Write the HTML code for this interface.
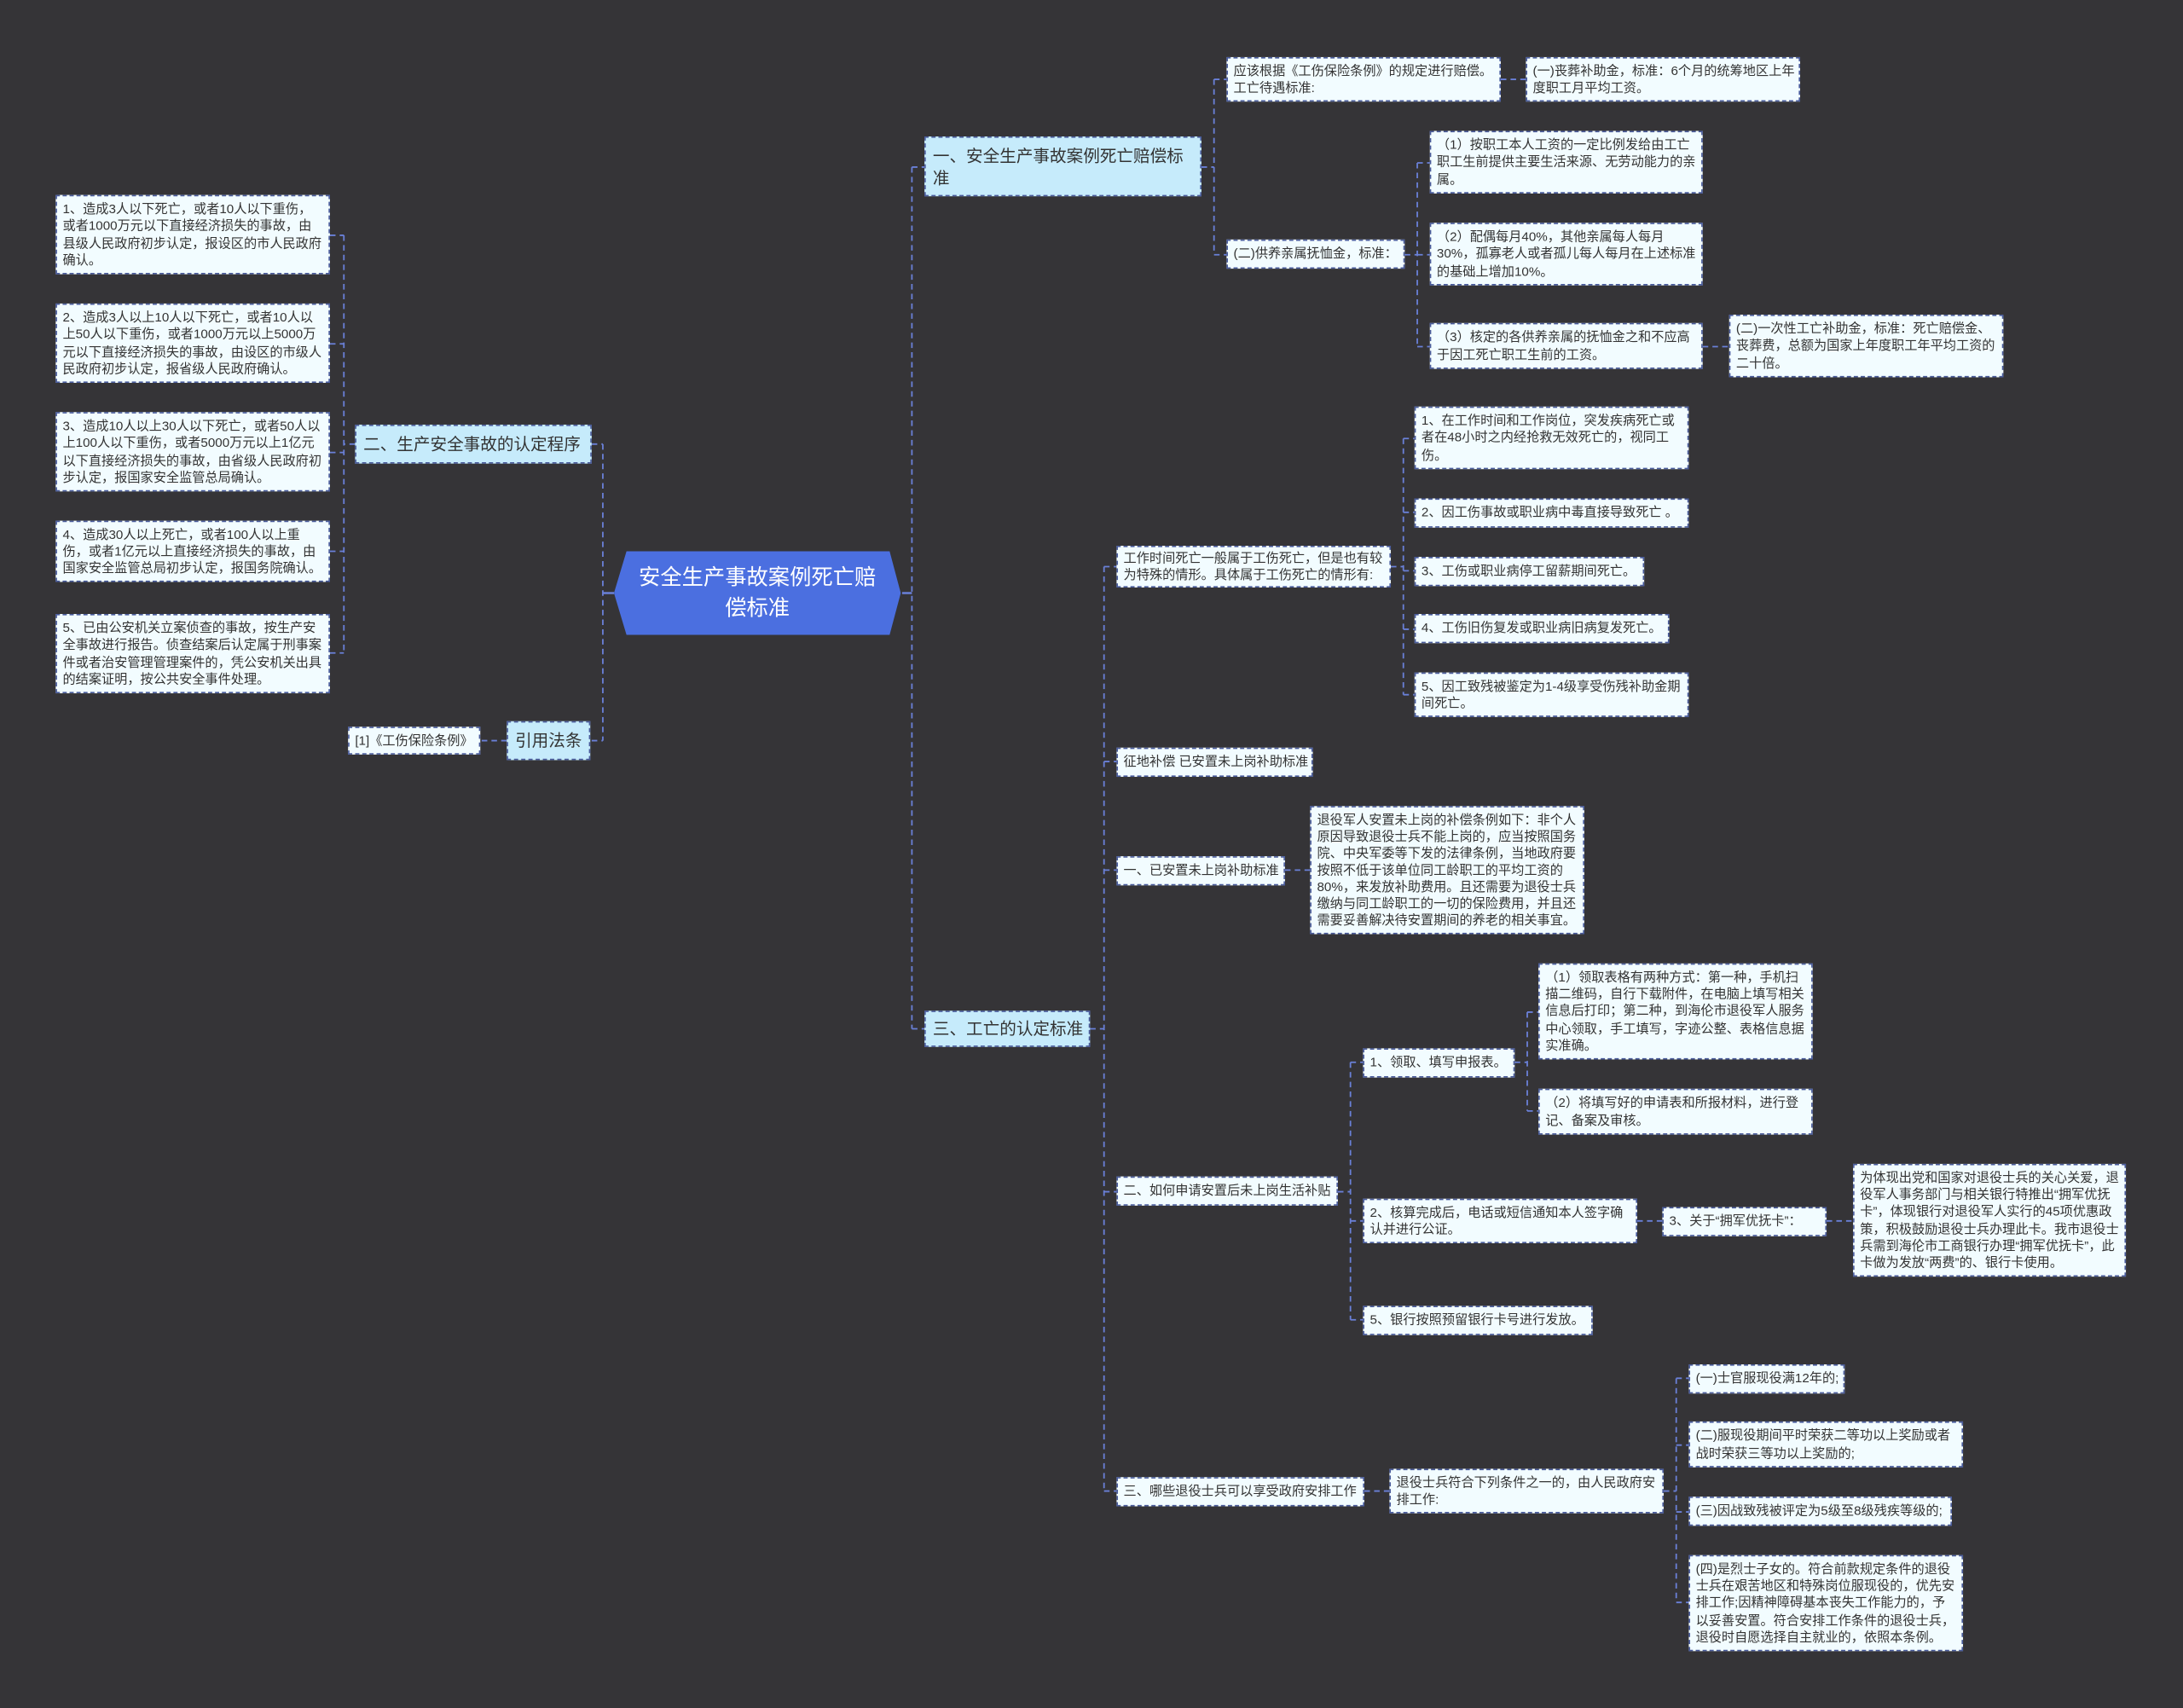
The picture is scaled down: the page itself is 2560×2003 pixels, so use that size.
<!DOCTYPE html>
<html><head><meta charset="utf-8"><style>
html,body{margin:0;padding:0;background:#353437;}
body{width:2560px;height:2003px;overflow:hidden;position:relative;}
#s{position:absolute;left:0;top:0;width:1568px;height:1227px;transform:scale(1.63265);transform-origin:0 0;}
.b{position:absolute;box-sizing:border-box;background:#f2fcff;border:1px dashed #4a5c9c;color:#333;font-family:"Liberation Sans","Noto Sans CJK SC",sans-serif;font-size:9.3px;line-height:12.1px;padding:3px 3px 3px 4px;overflow:hidden;display:flex;align-items:center;}
.b span{display:block;}
.m{background:#c6ebfb;font-size:12px;line-height:16px;padding:4px 5px;color:#333;}
.c{white-space:nowrap;}
svg{position:absolute;left:0;top:0;}
</style></head><body><div id="s">
<svg width="1568" height="1227">
<g stroke="#6a80d8" stroke-width="1.1" stroke-dasharray="4,3" fill="none">
<path d="M441 426 H433 M433 319 V532 M425 319 H433 M425 532 H433"/>
<path d="M255 319 H247 M247 169 V469 M237 169 H247 M237 247 H247 M237 325 H247 M237 396 H247 M237 469 H247"/>
<path d="M364 532 H345"/>
<path d="M648 426 H655 M655 120 V739 M655 120 H664 M655 739 H664"/>
<path d="M863 120 H872 M872 57 V183 M872 57 H881 M872 183 H881"/>
<path d="M1078 57 H1096"/>
<path d="M1009 183 H1018 M1018 117 V249 M1018 117 H1027 M1018 183 H1027 M1018 249 H1027"/>
<path d="M1223 249 H1242"/>
<path d="M783 739 H793 M793 407 V1071 M793 407 H802 M793 547 H802 M793 625 H802 M793 856 H802 M793 1071 H802"/>
<path d="M999 407 H1008 M1008 315 V499 M1008 315 H1016 M1008 368 H1016 M1008 410 H1016 M1008 452 H1016 M1008 499 H1016"/>
<path d="M923 625 H941"/>
<path d="M961 856 H970 M970 763 V948 M970 763 H979 M970 877 H979 M970 948 H979"/>
<path d="M1088 763 H1097 M1097 727 V798 M1097 727 H1105 M1097 798 H1105"/>
<path d="M1176 877 H1194 M1312 877 H1331"/>
<path d="M980 1071 H998 M1195 1071 H1204 M1204 990 V1151 M1204 990 H1213 M1204 1038 H1213 M1204 1086 H1213 M1204 1151 H1213"/>
</g>
<g stroke="#6a80d8" stroke-width="1.5"><path d="M433 426 H441 M648 426 H655"/></g>
<polygon points="450,396 639,396 647,426 639,456 450,456 441,426" fill="#4b6fe0"/>
<text x="544" y="420" fill="#fff" font-size="15.5" text-anchor="middle" font-family="Liberation Sans,Noto Sans CJK SC,sans-serif">安全生产事故案例死亡赔</text>
<text x="544" y="442" fill="#fff" font-size="15.5" text-anchor="middle" font-family="Liberation Sans,Noto Sans CJK SC,sans-serif">偿标准</text>
</svg>

<div class="b m c" style="left:255px;top:305px;width:170px;height:28px;">二、生产安全事故的认定程序</div>
<div class="b m c" style="left:364px;top:518px;width:60px;height:28px;">引用法条</div>
<div class="b c" style="left:250px;top:522px;width:95px;height:20px;">[1]《工伤保险条例》</div>
<div class="b" style="left:40px;top:140px;width:197px;height:57px;"><span>1、造成3人以下死亡，或者10人以下重伤，或者1000万元以下直接经济损失的事故，由县级人民政府初步认定，报设区的市人民政府确认。</span></div>
<div class="b" style="left:40px;top:218px;width:197px;height:57px;"><span>2、造成3人以上10人以下死亡，或者10人以上50人以下重伤，或者1000万元以上5000万元以下直接经济损失的事故，由设区的市级人民政府初步认定，报省级人民政府确认。</span></div>
<div class="b" style="left:40px;top:296px;width:197px;height:57px;"><span>3、造成10人以上30人以下死亡，或者50人以上100人以下重伤，或者5000万元以上1亿元以下直接经济损失的事故，由省级人民政府初步认定，报国家安全监管总局确认。</span></div>
<div class="b" style="left:40px;top:374px;width:197px;height:44px;"><span>4、造成30人以上死亡，或者100人以上重伤，或者1亿元以上直接经济损失的事故，由国家安全监管总局初步认定，报国务院确认。</span></div>
<div class="b" style="left:40px;top:441px;width:197px;height:57px;"><span>5、已由公安机关立案侦查的事故，按生产安全事故进行报告。侦查结案后认定属于刑事案件或者治安管理管理案件的，凭公安机关出具的结案证明，按公共安全事件处理。</span></div>

<div class="b m" style="left:664px;top:98px;width:199px;height:43px;"><span>一、安全生产事故案例死亡赔偿标准</span></div>
<div class="b m c" style="left:664px;top:726px;width:119px;height:26px;">三、工亡的认定标准</div>

<div class="b" style="left:881px;top:41px;width:197px;height:32px;"><span>应该根据《工伤保险条例》的规定进行赔偿。工亡待遇标准:</span></div>
<div class="b" style="left:1096px;top:41px;width:197px;height:32px;"><span>(一)丧葬补助金，标准：6个月的统筹地区上年度职工月平均工资。</span></div>
<div class="b c" style="left:881px;top:172px;width:128px;height:21px;">(二)供养亲属抚恤金，标准：</div>
<div class="b" style="left:1027px;top:94px;width:196px;height:45px;"><span>（1）按职工本人工资的一定比例发给由工亡职工生前提供主要生活来源、无劳动能力的亲属。</span></div>
<div class="b" style="left:1027px;top:160px;width:196px;height:45px;"><span>（2）配偶每月40%，其他亲属每人每月30%，孤寡老人或者孤儿每人每月在上述标准的基础上增加10%。</span></div>
<div class="b" style="left:1027px;top:232px;width:196px;height:33px;"><span>（3）核定的各供养亲属的抚恤金之和不应高于因工死亡职工生前的工资。</span></div>
<div class="b" style="left:1242px;top:226px;width:197px;height:45px;"><span>(二)一次性工亡补助金，标准：死亡赔偿金、丧葬费，总额为国家上年度职工年平均工资的二十倍。</span></div>

<div class="b" style="left:802px;top:392px;width:197px;height:30px;"><span>工作时间死亡一般属于工伤死亡，但是也有较为特殊的情形。具体属于工伤死亡的情形有:</span></div>
<div class="b" style="left:1016px;top:292px;width:197px;height:45px;"><span>1、在工作时间和工作岗位，突发疾病死亡或者在48小时之内经抢救无效死亡的，视同工伤。</span></div>
<div class="b c" style="left:1016px;top:358px;width:197px;height:21px;">2、因工伤事故或职业病中毒直接导致死亡 。</div>
<div class="b c" style="left:1016px;top:400px;width:165px;height:21px;">3、工伤或职业病停工留薪期间死亡。</div>
<div class="b c" style="left:1016px;top:441px;width:183px;height:21px;">4、工伤旧伤复发或职业病旧病复发死亡。</div>
<div class="b" style="left:1016px;top:483px;width:197px;height:32px;"><span>5、因工致残被鉴定为1-4级享受伤残补助金期间死亡。</span></div>
<div class="b c" style="left:802px;top:537px;width:141px;height:21px;">征地补偿 已安置未上岗补助标准</div>
<div class="b c" style="left:802px;top:615px;width:121px;height:21px;">一、已安置未上岗补助标准</div>
<div class="b" style="left:941px;top:579px;width:197px;height:92px;"><span>退役军人安置未上岗的补偿条例如下：非个人原因导致退役士兵不能上岗的，应当按照国务院、中央军委等下发的法律条例，当地政府要按照不低于该单位同工龄职工的平均工资的80%，来发放补助费用。且还需要为退役士兵缴纳与同工龄职工的一切的保险费用，并且还需要妥善解决待安置期间的养老的相关事宜。</span></div>
<div class="b c" style="left:802px;top:845px;width:159px;height:21px;">二、如何申请安置后未上岗生活补贴</div>
<div class="b c" style="left:979px;top:753px;width:109px;height:21px;">1、领取、填写申报表。</div>
<div class="b" style="left:1105px;top:692px;width:197px;height:69px;"><span>（1）领取表格有两种方式：第一种，手机扫描二维码，自行下载附件，在电脑上填写相关信息后打印；第二种，到海伦市退役军人服务中心领取，手工填写，字迹公整、表格信息据实准确。</span></div>
<div class="b" style="left:1105px;top:782px;width:197px;height:33px;"><span>（2）将填写好的申请表和所报材料，进行登记、备案及审核。</span></div>
<div class="b" style="left:979px;top:861px;width:197px;height:32px;"><span>2、核算完成后，电话或短信通知本人签字确认并进行公证。</span></div>
<div class="b c" style="left:1194px;top:867px;width:118px;height:21px;">3、关于“拥军优抚卡”：</div>
<div class="b" style="left:1331px;top:836px;width:196px;height:81px;"><span>为体现出党和国家对退役士兵的关心关爱，退役军人事务部门与相关银行特推出“拥军优抚卡”，体现银行对退役军人实行的45项优惠政策，积极鼓励退役士兵办理此卡。我市退役士兵需到海伦市工商银行办理“拥军优抚卡”，此卡做为发放“两费”的、银行卡使用。</span></div>
<div class="b c" style="left:979px;top:938px;width:165px;height:21px;">5、银行按照预留银行卡号进行发放。</div>
<div class="b c" style="left:802px;top:1061px;width:178px;height:21px;">三、哪些退役士兵可以享受政府安排工作</div>
<div class="b" style="left:998px;top:1055px;width:197px;height:32px;"><span>退役士兵符合下列条件之一的，由人民政府安排工作:</span></div>
<div class="b c" style="left:1213px;top:980px;width:112px;height:21px;">(一)士官服现役满12年的;</div>
<div class="b" style="left:1213px;top:1021px;width:197px;height:33px;"><span>(二)服现役期间平时荣获二等功以上奖励或者战时荣获三等功以上奖励的;</span></div>
<div class="b c" style="left:1213px;top:1075px;width:189px;height:21px;">(三)因战致残被评定为5级至8级残疾等级的;</div>
<div class="b" style="left:1213px;top:1117px;width:197px;height:69px;"><span>(四)是烈士子女的。符合前款规定条件的退役士兵在艰苦地区和特殊岗位服现役的，优先安排工作;因精神障碍基本丧失工作能力的，予以妥善安置。符合安排工作条件的退役士兵，退役时自愿选择自主就业的，依照本条例。</span></div>
</div></body></html>
